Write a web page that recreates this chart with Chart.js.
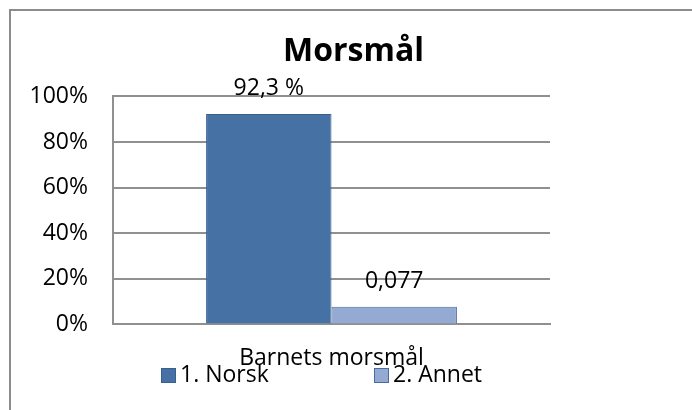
<!DOCTYPE html>
<html lang="no">
<head>
<meta charset="utf-8">
<title>Morsmål</title>
<script src="https://cdn.jsdelivr.net/npm/chart.js@4"></script>
<style>
    html, body {
        margin: 0;
        padding: 0;
        background: #fff;
        overflow: hidden;
    }
    #wrap {
        position: relative;
        width: 692px;
        height: 410px;
    }
    #frame {
        position: absolute;
        left: 9px;
        top: 9px;
        width: 700px;
        height: 420px;
        border-left: 2px solid #8c8c8c;
        border-top: 2px solid #8c8c8c;
        pointer-events: none;
    }
    #legend {
        position: absolute;
        left: 161px;
        top: 360px;
        display: grid;
        grid-template-columns: 213px 213px;
        font-family: "Open Sans", sans-serif;
        font-size: 23px;
        line-height: 27px;
        color: #000;
    }
    .legend-item {
        display: flex;
        align-items: center;
        white-space: nowrap;
    }
    .legend-box {
        width: 13px;
        height: 13px;
        border: 1px solid;
        margin-right: 4px;
        position: relative;
        top: 2px;
    }
</style>
</head>
<body>
<div id="wrap">
    <canvas id="chart" width="692" height="410"></canvas>
    <div id="frame"></div>
    <div id="legend"></div>
</div>
<script>
const categories = ["Barnets morsmål"];
const seriesNames = ["1. Norsk", "2. Annet"];
const norskValues = [92.3];
const annetValues = [7.7];
const valueLabels = [["92,3 %"], ["0,077"]];
const yTicks = [0, 20, 40, 60, 80, 100];

const FONT = "'Open Sans', sans-serif";
const gridColor = "#909090";

// value labels above the bars
const barLabels = {
    id: "barLabels",
    afterDatasetsDraw(chart) {
        const ctx = chart.ctx;
        ctx.save();
        ctx.font = "23px " + FONT;
        ctx.fillStyle = "#000";
        ctx.textAlign = "center";
        ctx.textBaseline = "alphabetic";
        chart.data.datasets.forEach((ds, i) => {
            chart.getDatasetMeta(i).data.forEach((bar, j) => {
                ctx.fillText(valueLabels[i][j], bar.x, bar.y - 19);
            });
        });
        ctx.restore();
    },
};

const chart = new Chart(document.getElementById("chart"), {
    type: "bar",
    data: {
        labels: categories,
        datasets: [
            {
                label: seriesNames[0],
                data: norskValues,
                backgroundColor: "#4571a5",
                borderColor: "#3a5f8f",
                borderWidth: 1,
            },
            {
                label: seriesNames[1],
                data: annetValues,
                backgroundColor: "#94aad3",
                borderColor: "#4a6b9c",
                borderWidth: 1,
            },
        ],
    },
    options: {
        responsive: false,
        animation: false,
        layout: {
            padding: { left: 15, right: 0, top: 0, bottom: 18 },
        },
        datasets: {
            bar: {
                categoryPercentage: 0.574,
                barPercentage: 1,
            },
        },
        plugins: {
            legend: { display: false },
            tooltip: { enabled: false },
            title: {
                display: true,
                text: "Morsmål",
                color: "#000",
                font: { family: FONT, size: 32, weight: "bold" },
                padding: { top: 33, bottom: 25 },
            },
        },
        scales: {
            x: {
                grid: { display: false, drawTicks: false },
                border: { display: true, color: gridColor, width: 2 },
                ticks: {
                    color: "#000",
                    font: { family: FONT, size: 23 },
                    padding: 20,
                },
            },
            y: {
                min: 0,
                max: 100,
                afterBuildTicks: (scale) => {
                    scale.ticks = yTicks.map((v) => ({ value: v }));
                },
                afterFit: (scale) => {
                    scale.width = 98;
                },
                grid: { color: gridColor, lineWidth: 2, drawTicks: false },
                border: { display: true, color: gridColor, width: 2 },
                ticks: {
                    color: "#000",
                    font: { family: FONT, size: 23 },
                    padding: 25,
                    callback: (v) => v + "%",
                },
            },
            // empty space right of the plot (the chart continues past the picture)
            pad: {
                type: "linear",
                position: "right",
                grid: { display: false, drawTicks: false },
                border: { display: false },
                ticks: { display: false },
                afterFit: (scale) => {
                    scale.width = 142;
                },
            },
        },
    },
    plugins: [barLabels],
});

// legend as html, items taken from the chart
const legendEl = document.getElementById("legend");
chart.options.plugins.legend.labels
    .generateLabels(chart)
    .forEach((item) => {
        const div = document.createElement("div");
        div.className = "legend-item";
        const box = document.createElement("span");
        box.className = "legend-box";
        box.style.background = item.fillStyle;
        box.style.borderColor = item.strokeStyle;
        const txt = document.createElement("span");
        txt.textContent = item.text;
        div.appendChild(box);
        div.appendChild(txt);
        legendEl.appendChild(div);
    });
</script>
</body>
</html>
